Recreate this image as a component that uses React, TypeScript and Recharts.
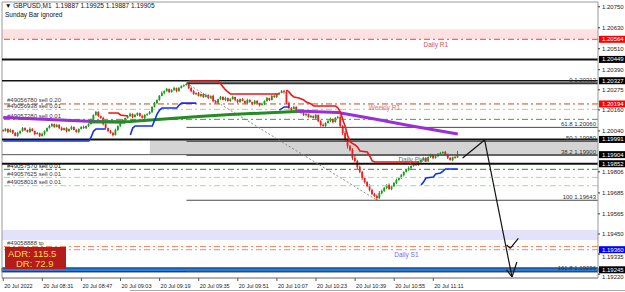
import React from "react";
import {
  ComposedChart,
  Bar,
  Line,
  XAxis,
  YAxis,
  ReferenceLine,
  ReferenceArea,
  ReferenceDot,
} from "recharts";

// candle prices are written as points above 1.19000 (1 point = 0.00001)
const BASE = 1.19;
const px = (n: number) => Number((BASE + n / 100000).toFixed(5));

const firstOpen = 1045;
const closes = [
  1039, 1051, 1034, 1045, 1028, 1011, 1028, 1039, 1056, 1045,
  1034, 1051, 1039, 1022, 1028, 1011, 1022, 1039, 1056, 1068,
  1079, 1062, 1074, 1056, 1045, 1056, 1039, 1051, 1062, 1045,
  1034, 1051, 1062, 1056, 1068, 1079, 1102, 1131, 1148, 1125,
  1114, 1079, 1056, 1039, 1028, 1016, 1045, 1068, 1091, 1102,
  1114, 1125, 1137, 1119, 1131, 1142, 1125, 1114, 1131, 1137,
  1148, 1177, 1199, 1217, 1240, 1257, 1268, 1280, 1262, 1274,
  1285, 1268, 1285, 1297, 1302, 1308, 1285, 1268, 1251, 1257,
  1240, 1251, 1234, 1245, 1228, 1240, 1211, 1199, 1222, 1234,
  1217, 1228, 1211, 1222, 1234, 1217, 1205, 1222, 1211, 1199,
  1217, 1205, 1194, 1211, 1199, 1188, 1194, 1211, 1228, 1217,
  1240, 1234, 1251, 1257, 1268, 1262, 1199, 1171, 1159, 1177,
  1148, 1159, 1142, 1131, 1137, 1119, 1125, 1114, 1131, 1096,
  1074, 1068, 1085, 1096, 1108, 1091, 1114, 1119, 1068, 1028,
  988, 953, 931, 885, 868, 833, 805, 770, 747, 724,
  702, 679, 667, 656, 684, 696, 713, 730, 707, 724,
  742, 759, 770, 787, 805, 816, 828, 839, 850, 845,
  862, 873, 885, 868, 890, 902, 885, 896, 908, 913,
  919, 902, 885, 873, 890, 887, 905,
];
const wickUp = [
  4, 6, 3, 8, 2, 5, 7, 3, 6, 4, 2, 9, 5, 3, 6, 2, 8, 4, 3, 7,
  5, 2, 6, 4, 8, 3, 5, 2, 7, 4, 6, 3, 5, 9, 2, 4, 8, 3, 6, 5,
  3, 7, 4, 2, 6, 5, 8, 3, 4, 6, 2, 5, 7, 3, 6, 4, 2, 8, 5, 3,
  6, 4, 7, 3, 5, 9, 4, 6, 2, 5, 8, 3, 6, 4, 4, 4, 9, 5, 7, 3,
  6, 2, 5, 8, 4, 3, 7, 5, 2, 6, 4, 8, 3, 5, 7, 2, 6, 4, 5, 3,
  7, 4, 2, 6, 5, 3, 8, 4, 6, 2, 5, 7, 3, 4, 6, 8, 12, 9, 5, 7,
  4, 6, 3, 8, 5, 2, 7, 4, 6, 3, 5, 9, 4, 6, 8, 3, 5, 7, 10, 6,
  12, 8, 6, 10, 14, 7, 9, 6, 8, 5, 10, 7, 6, 9, 12, 8, 6, 5, 9, 4,
  6, 8, 5, 7, 3, 6, 9, 4, 5, 8, 6, 3, 7, 5, 4, 8, 6, 3, 5, 7,
  4, 6, 8, 5, 3, 6, 20,
];
const wickDn = [
  5, 3, 7, 4, 6, 2, 5, 8, 3, 6, 4, 5, 2, 7, 3, 6, 4, 8, 5, 3,
  6, 4, 2, 7, 5, 3, 8, 4, 6, 2, 5, 7, 3, 4, 6, 5, 3, 7, 4, 6,
  5, 8, 3, 6, 4, 7, 2, 5, 6, 3, 8, 4, 5, 7, 2, 6, 4, 3, 8, 5,
  4, 6, 3, 7, 5, 2, 8, 4, 6, 3, 5, 7, 4, 2, 6, 3, 5, 8, 4, 6,
  3, 7, 5, 2, 6, 4, 8, 3, 5, 6, 2, 7, 4, 5, 3, 8, 6, 4, 2, 5,
  6, 3, 7, 4, 5, 8, 2, 6, 4, 7, 3, 5, 6, 4, 2, 9, 6, 8, 5, 4,
  7, 5, 3, 6, 8, 4, 5, 2, 7, 6, 9, 4, 5, 3, 6, 8, 4, 5, 9, 12,
  10, 14, 8, 12, 9, 11, 7, 10, 8, 6, 9, 7, 5, 13, 6, 8, 5, 7, 4, 6,
  5, 7, 4, 6, 8, 3, 5, 7, 4, 6, 5, 8, 3, 6, 4, 5, 7, 4, 6, 3,
  5, 4, 6, 3, 7, 5, 0,
];

const timeTicks = [0, 16, 32, 48, 64, 80, 96, 112, 128, 144, 160, 176];
const timeLabels = [
  "20 Jul 2022", "20 Jul 08:31", "20 Jul 08:47", "20 Jul 09:03",
  "20 Jul 09:19", "20 Jul 09:35", "20 Jul 09:51", "20 Jul 10:07",
  "20 Jul 10:23", "20 Jul 10:39", "20 Jul 10:55", "20 Jul 11:11",
];

const priceTicks = [
  1.2075, 1.2063, 1.2051, 1.2039, 1.20275, 1.2016, 1.2004,
  1.19806, 1.19685, 1.19565, 1.1945, 1.19335, 1.1922,
];
const tagPrices = [1.20564, 1.20449, 1.20327, 1.20194, 1.19991, 1.19904, 1.19852, 1.1936, 1.19245];
const tagFill = ["#ff0000", "#000", "#000", "#ff0000", "#000", "#000", "#000", "#0000ff", "#000"];

// indicator knots: [bar index, points]
const blueSegs = [
  [[0, 982], [35, 982], [36, 1005], [37, 1039], [38, 1051], [42, 1051]],
  [[52, 1016], [53, 1056], [54, 1068], [61, 1068], [62, 1102], [63, 1137], [64, 1159], [65, 1171], [71, 1171], [72, 1188], [73, 1199], [79, 1199]],
  [[113, 1159], [115, 1177], [117, 1177]],
  [[171, 730], [172, 747], [173, 770], [176, 776], [177, 793], [179, 799], [180, 810], [181, 822], [186, 822]],
];
const redSegs = [
  [[43, 1142], [47, 1142], [48, 1131], [51, 1125]],
  [[76, 1325], [88, 1325], [89, 1308], [90, 1291], [91, 1274], [93, 1251], [113, 1251]],
  [[116, 1274], [117, 1262], [118, 1245], [119, 1234], [121, 1228], [123, 1217], [124, 1205], [126, 1194], [127, 1182], [136, 1182], [137, 1171], [138, 1148], [139, 1102], [140, 1062], [141, 1011], [142, 976], [144, 959], [145, 948], [146, 925], [149, 919], [150, 896], [151, 868], [152, 862], [170, 862]],
];
const maFalling1 = [[0, 1116], [37, 1094], [50, 1089]];
const maRising = [[35, 1091], [52, 1094], [80, 1122], [93, 1134], [120, 1151], [123, 1154]];
const maFalling2 = [[120, 1154], [137, 1145], [145, 1125], [152, 1108], [166, 1071], [186, 1022]];

const blackLevels = [1.20449, 1.20327, 1.19991, 1.19904, 1.19852];
const orderNames = [
  "#49056780 sell 0.20", "#49056938 sell 0.01", "#49057280 sell 0.01",
  "#49057570 sell 0.01", "#49057625 sell 0.01", "#49058018 sell 0.01", "#49058888 tp",
];
const orderPrices = [1.20194, 1.20163, 1.20106, 1.1982, 1.19774, 1.19726, 1.19378];

const fibNames = ["0", "61.8", "50", "38.2", "100", "161.8"];
const fibPrices = [1.20312, 1.2006, 1.1998, 1.199, 1.19643, 1.19236];
const fibFrom = 75;
const fibTrend = [[75, 1.20312], [153, 1.19643]];

const pivotNames = ["Daily R1", "Weekly R1", "Daily Pivot", "Daily S1"];
const pivotPrices = [1.20564, 1.20194, 1.19852, 1.1936];
const pivotAt = [177, 156, 168, 165];

const arrowPath = [[188, 1.19885], [197, 1.19988], [208.2, 1.19204]];
const arrowHeadLow = [[206, 1.19244], [208.2, 1.19204], [210.2, 1.1929]];
const arrowHeadMid = [[206, 1.19387], [207.5, 1.19368], [210.8, 1.19425]];

const X_MAX = 243.4;
const Y_MIN = 1.191981;
const Y_MAX = 1.207775;
const FONT = "'Liberation Sans', Arial, sans-serif";
const BULL = "#1c9a1c";
const BEAR = "#f41c1c";

const rows = closes.map((c, i) => {
  const o = i === 0 ? firstOpen : closes[i - 1];
  const h = Math.max(o, c) + (wickUp[i] ?? 0);
  const l = Math.min(o, c) - (wickDn[i] ?? 0);
  return { i, o: px(o), c: px(c), h: px(h), l: px(l), range: [px(l), px(h)] };
});

const Candle = (p: any) => {
  const { x, y, width, height, payload } = p;
  if (!payload || x == null || y == null) return null;
  const { o, c, h, l } = payload;
  const cx = x + width / 2;
  const top = Math.min(y, y + height);
  const hh = Math.abs(height);
  const toY = (v: number) => (h === l ? top : top + ((h - v) / (h - l)) * hh);
  const yo = toY(o);
  const yc = toY(c);
  const col = c >= o ? BULL : BEAR;
  return (
    <g>
      <line x1={cx} x2={cx} y1={top} y2={top + hh} stroke={col} strokeWidth={1} />
      <rect x={cx - 0.9} y={Math.min(yo, yc)} width={1.8} height={Math.max(1, Math.abs(yo - yc))} fill={col} />
    </g>
  );
};

const Txt = (props: any) => {
  const { viewBox, text, fill = "#333", anchor = "start", ax = 0, dx = 0, dy = 0, size = 6 } = props;
  if (!viewBox) return null;
  const x = viewBox.x + (viewBox.width || 0) * ax + dx;
  const y = viewBox.y + (viewBox.height || 0) / 2 + dy;
  return (
    <text x={x} y={y} fill={fill} fontSize={size} textAnchor={anchor} fontFamily={FONT} dominantBaseline="central">
      {text}
    </text>
  );
};

// plain ticks that sit just under a tagged price are pushed a little lower, as MT4 does
const tickNudge = (v: number) => (Math.abs(v - 1.19335) < 1e-7 ? 2.6 : Math.abs(v - 1.1922) < 1e-7 ? 2.4 : 0);

const PriceTick = (p: any) => {
  const { x, y, payload } = p;
  const v = payload.value;
  const k = tagPrices.findIndex((t) => Math.abs(t - v) < 1e-7);
  const s = v.toFixed(5);
  if (k >= 0) {
    return (
      <g>
        <rect x={x + 1} y={y - 3.5} width={27} height={7} fill={tagFill[k]} />
        <text x={x + 4} y={y} fontSize={6} fill="#fff" fontFamily={FONT} dominantBaseline="central">{s}</text>
      </g>
    );
  }
  const ty = y + tickNudge(v);
  return (
    <g>
      <line x1={x} x2={x + 2} y1={y} y2={y} stroke="#333" />
      <text x={x + 4} y={ty} fontSize={6} fill="#222" fontFamily={FONT} dominantBaseline="central">{s}</text>
    </g>
  );
};

const TimeTick = (p: any) => {
  const { x, y, payload } = p;
  const k = timeTicks.indexOf(payload.value);
  return (
    <g>
      <line x1={x} x2={x} y1={y} y2={y + 3} stroke="#555" />
      <text x={x + 1} y={y + 7.5} fontSize={5.5} fill="#222" fontFamily={FONT} dominantBaseline="central">
        {timeLabels[k]}
      </text>
    </g>
  );
};

const knots = (seg: number[][]) => seg.map(([i, v]) => ({ i, v: px(v) }));

const segLine = (seg: number[][], key: string, color: string, w: number) => (
  <Line
    key={key}
    data={knots(seg)}
    dataKey="v"
    type="linear"
    stroke={color}
    strokeWidth={w}
    dot={false}
    activeDot={false}
    isAnimationActive={false}
  />
);

const dashDot = "6 3 2 3";
const orderStroke = ["#c8441c", "#9fd69f", "#3f9f3f", "#2e8b2e", "#a4d8a4", "#a4d8a4", "#ff8050"];
const pivotColor = ["#d85050", "#e07070", "#707070", "#6b6bff"];
const pivotDy = [5, 4, -4.5, 5];

export default function App() {
  return (
    <div style={{ position: "fixed", left: 0, top: 0, width: 625, height: 292, background: "#fff", overflow: "hidden" }}>
      <ComposedChart width={625} height={292} data={rows} margin={{ top: 2, right: 0, bottom: 0, left: 2 }}>
        <XAxis
          dataKey="i"
          type="number"
          domain={[-0.5, X_MAX]}
          allowDataOverflow
          ticks={timeTicks}
          interval={0}
          height={14}
          tickSize={0}
          tickMargin={0}
          tickLine={false}
          axisLine={{ stroke: "#666" }}
          tick={<TimeTick />}
        />
        <YAxis
          orientation="right"
          type="number"
          domain={[Y_MIN, Y_MAX]}
          allowDataOverflow
          ticks={[...priceTicks, ...tagPrices]}
          interval={0}
          width={27}
          tickSize={0}
          tickMargin={0}
          tickLine={false}
          axisLine={{ stroke: "#999" }}
          tick={<PriceTick />}
        />

        <ReferenceArea y1={1.20564} y2={1.20621} fill="#ffe1e1" fillOpacity={1} stroke="none" ifOverflow="visible" />
        <ReferenceArea y1={1.19415} y2={1.19473} fill="#e2e2fa" fillOpacity={1} stroke="none" ifOverflow="visible" />
        <ReferenceArea x1={60} x2={X_MAX} y1={1.19904} y2={1.19991} fill="#d4d4d4" fillOpacity={1} stroke="none" ifOverflow="visible" />
        <ReferenceArea y1={1.19233} y2={1.19256} fill="#1e80e8" fillOpacity={1} stroke="#1a1a2a" strokeWidth={1} ifOverflow="visible" />

        <ReferenceLine x={-0.5} stroke="#999" ifOverflow="visible" />
        <ReferenceLine y={Y_MAX} stroke="#999" ifOverflow="visible" />

        <ReferenceLine y={pivotPrices[0]} stroke="#ff3a3a" strokeDasharray={dashDot} ifOverflow="visible" />
        <ReferenceLine y={pivotPrices[3]} stroke="#9a9af2" strokeDasharray={dashDot} ifOverflow="visible" />

        {blackLevels.map((v, k) => (
          <ReferenceLine key={"b" + k} y={v} stroke={k === 3 ? "#555" : "#111"} strokeWidth={[2, 1.5, 2, 1, 2][k]} ifOverflow="visible" />
        ))}

        {fibPrices.map((v, k) => (
          <ReferenceLine
            key={"f" + k}
            segment={[{ x: fibFrom, y: v }, { x: X_MAX, y: v }]}
            stroke={k === 0 ? "#333" : "#4a4a4a"}
            strokeWidth={k === 0 ? 2 : 1}
            ifOverflow="visible"
            label={<Txt text={`${fibNames[k]}  ${v.toFixed(5)}`} anchor="end" ax={1} dx={-2} dy={-3.5} fill="#333" />}
          />
        ))}
        <ReferenceLine
          segment={[{ x: fibTrend[0][0], y: fibTrend[0][1] }, { x: fibTrend[1][0], y: fibTrend[1][1] }]}
          stroke="#8a8a8a"
          strokeDasharray="2 2"
          ifOverflow="visible"
        />

        {orderPrices.map((v, k) => (
          <ReferenceLine
            key={"o" + k}
            y={v}
            stroke={orderStroke[k]}
            strokeDasharray={dashDot}
            ifOverflow="visible"
            label={<Txt text={orderNames[k]} ax={0} dx={5} dy={-3.5} fill={k === 3 ? "#111" : "#3a3a3a"} />}
          />
        ))}

        <Bar dataKey="range" barSize={2} shape={<Candle />} isAnimationActive={false} />

        {segLine(maFalling1, "p1", "#9a2fd6", 3)}
        {segLine(maRising, "g1", "#238c23", 3)}
        {segLine(maFalling2, "p2", "#9a2fd6", 3)}
        {blueSegs.map((s, k) => segLine(s, "bl" + k, "#1030f0", 1.6))}
        {redSegs.map((s, k) => segLine(s, "rd" + k, "#f41414", 1.6))}

        {[arrowPath, arrowHeadLow, arrowHeadMid].flatMap((path, n) =>
          path.slice(1).map((pt, k) => (
            <ReferenceLine
              key={`a${n}-${k}`}
              segment={[{ x: path[k][0], y: path[k][1] }, { x: pt[0], y: pt[1] }]}
              stroke="#111"
              strokeWidth={1.2}
              ifOverflow="visible"
            />
          ))
        )}

        {pivotNames.map((name, k) => (
          <ReferenceDot
            key={"pv" + k}
            x={pivotAt[k]}
            y={pivotPrices[k]}
            r={0.01}
            fill="none"
            stroke="none"
            ifOverflow="visible"
            label={<Txt text={name} anchor="middle" ax={0.5} dy={pivotDy[k]} fill={pivotColor[k]} size={6.5} />}
          />
        ))}
      </ComposedChart>

      <div style={{ position: "absolute", left: 5, top: 1, fontFamily: FONT, fontSize: 6.5, color: "#111", whiteSpace: "pre", lineHeight: "9px" }}>
        {"\u25BC GBPUSD,M1  1.19887 1.19925 1.19887 1.19905"}
        <br />
        {"Sunday Bar ignored"}
      </div>

      <div
        style={{
          position: "absolute",
          left: 5,
          top: 247,
          width: 61,
          height: 22,
          background: "#b41c1c",
          color: "#ffd84a",
          fontFamily: FONT,
          fontSize: 9.5,
          lineHeight: "10px",
          paddingTop: 2,
          boxSizing: "border-box",
        }}
      >
        <div style={{ paddingLeft: 3 }}>ADR: 115.5</div>
        <div style={{ paddingLeft: 11 }}>DR: 72.9</div>
      </div>

      <div style={{ position: "absolute", left: 130, top: 290, width: 495, height: 0, borderTop: "1px solid #aaa" }} />
    </div>
  );
}
